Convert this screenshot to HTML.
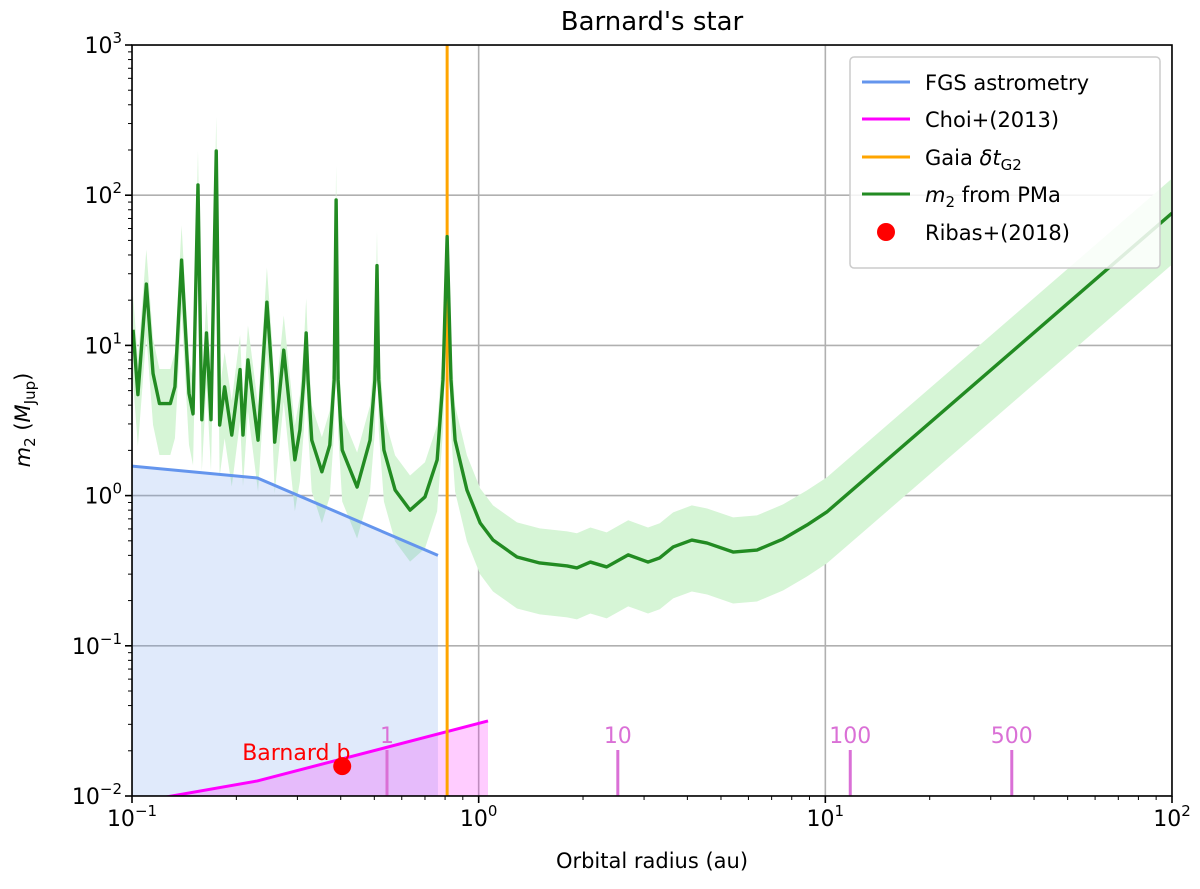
<!DOCTYPE html>
<html><head><meta charset="utf-8"><style>
body{margin:0;background:#fff}
svg text{font-family:"DejaVu Sans","Liberation Sans",sans-serif;fill:#000}
</style></head><body>
<svg id="c" width="1200" height="884" xmlns="http://www.w3.org/2000/svg"></svg>
<script>
const pmaRadius=[0.1007,0.104,0.110,0.115,0.120,0.129,0.133,0.139,0.146,0.150,0.155,0.159,0.164,0.169,0.175,0.179,0.185,0.194,0.205,0.209,0.216,0.231,0.237,0.245,0.254,0.258,0.274,0.295,0.305,0.313,0.318,0.322,0.330,0.353,0.372,0.383,0.388,0.393,0.404,0.446,0.486,0.502,0.509,0.515,0.533,0.574,0.634,0.700,0.759,0.789,0.811,0.832,0.855,0.925,1.01,1.10,1.29,1.50,1.80,1.92,2.10,2.34,2.70,3.08,3.33,3.64,4.12,4.56,5.42,6.35,7.55,8.85,10.1,12.6,100];
const pmaMass=[12.7,4.7,25.6,6.5,4.1,4.1,5.3,37,4.8,3.5,117,3.2,12.1,3.2,197,2.95,5.3,2.53,6.9,2.53,8.0,2.34,5.9,19.4,5.9,2.27,9.3,1.73,2.73,5.9,12.1,5.9,2.34,1.44,2.17,5.9,93,5.9,2.01,1.14,2.34,5.9,34,5.9,2.01,1.09,0.80,0.98,1.73,5.9,53,5.9,2.34,1.09,0.657,0.506,0.390,0.356,0.340,0.330,0.361,0.335,0.403,0.361,0.385,0.455,0.506,0.483,0.421,0.434,0.514,0.637,0.778,1.21,76];
const bandUp=1.7, bandLo=2.2;
const fgsRadius=[0.1,0.230,0.763];
const fgsMass=[1.57,1.31,0.40];
const choiRadius=[0.1,0.230,1.064];
const choiMass=[0.00898,0.0126,0.0316];
const gaiaRadius=0.811;
const ribasRadius=0.404, ribasMass=0.0158;
const periodLabels=["1","10","100","500"];
const periodRadius=[0.544,2.52,11.8,34.5];
const xTicks=[-1,0,1,2];
const yTicks=[-2,-1,0,1,2,3];

const L=132,R=1172,T=45,B=796;
const X=a=>L+(Math.log10(a)+1)/3*(R-L);
const Y=m=>B-(Math.log10(m)+2)/5*(B-T);
const svg=document.getElementById('c');
const NS='http://www.w3.org/2000/svg';
function mk(tag,at,parent){const e=document.createElementNS(NS,tag);for(const k in at)e.setAttribute(k,at[k]);(parent||svg).appendChild(e);return e;}
const defs=mk('defs',{});const cp=mk('clipPath',{id:'pc'},defs);mk('rect',{x:L,y:T,width:R-L,height:B-T},cp);
const plot=mk('g',{'clip-path':'url(#pc)'});


for(const t of xTicks){const g=mk('line',{x1:X(10**t),x2:X(10**t),y1:T,y2:B,stroke:'#b0b0b0','stroke-width':1.6},plot);

}
for(const t of yTicks){const g=mk('line',{x1:L,x2:R,y1:Y(10**t),y2:Y(10**t),stroke:'#b0b0b0','stroke-width':1.6},plot);

}
let up=pmaRadius.map((a,i)=>X(a)+','+Y(pmaMass[i]*bandUp));
let lo=pmaRadius.map((a,i)=>X(a)+','+Y(pmaMass[i]/bandLo)).reverse();
const band=mk('polygon',{points:up.concat(lo).join(' '),fill:'#d6f5d6'},plot);


let fp=fgsRadius.map((a,i)=>X(a)+','+Y(fgsMass[i]));
fp.push(X(fgsRadius[2])+','+B,X(fgsRadius[0])+','+B);
const ff=mk('polygon',{points:fp.join(' '),fill:'#6495ed','fill-opacity':0.2},plot);


let cpnts=choiRadius.map((a,i)=>X(a)+','+Y(choiMass[i]));
cpnts.push(X(choiRadius[2])+','+(B+20),X(choiRadius[0])+','+(B+20));
const cf=mk('polygon',{points:cpnts.join(' '),fill:'#ff00ff','fill-opacity':0.2},plot);


periodRadius.forEach((a,i)=>{
const l=mk('line',{x1:X(a),x2:X(a),y1:750,y2:B,stroke:'#da70d6','stroke-width':3},plot);


const t=mk('text',{x:X(a),y:743,'text-anchor':'middle','font-size':22});t.style.fill='#da70d6';t.textContent=periodLabels[i];


});
const fl=mk('polyline',{points:fgsRadius.map((a,i)=>X(a)+','+Y(fgsMass[i])).join(' '),fill:'none',stroke:'#6495ed','stroke-width':3},plot);


const cl=mk('polyline',{points:choiRadius.map((a,i)=>X(a)+','+Y(choiMass[i])).join(' '),fill:'none',stroke:'#ff00ff','stroke-width':3},plot);


const gl=mk('line',{x1:X(gaiaRadius),x2:X(gaiaRadius),y1:T,y2:B,stroke:'#ffa500','stroke-width':3},plot);


const pl=mk('polyline',{points:pmaRadius.map((a,i)=>X(a)+','+Y(pmaMass[i])).join(' '),fill:'none',stroke:'#228b22','stroke-width':3.4,'stroke-linejoin':'round'},plot);


const rp=mk('circle',{cx:X(ribasRadius),cy:Y(ribasMass),r:9,fill:'#ff0000'},plot);


const bl=mk('text',{x:X(ribasRadius)-100,y:760,'font-size':22});bl.style.fill='#ff0000';bl.textContent='Barnard b';


const fr=mk('rect',{x:L,y:T,width:R-L,height:B-T,fill:'none',stroke:'#000','stroke-width':1.6});


for(let d=-1;d<=2;d++){
const t=mk('line',{x1:X(10**d),x2:X(10**d),y1:B,y2:B+7,stroke:'#000','stroke-width':1.6});


const tx=mk('text',{x:X(10**d),y:B+30,'text-anchor':'middle','font-size':22});
tx.innerHTML='10<tspan dy="-10" font-size="15">'+(d<0?'\u2212'+(-d):d)+'</tspan>';


if(d<2)for(let k=2;k<10;k++){const m=mk('line',{x1:X(k*10**d),x2:X(k*10**d),y1:B,y2:B+4,stroke:'#000','stroke-width':1});

}
}
for(const d of yTicks){
const t=mk('line',{x1:L-7,x2:L,y1:Y(10**d),y2:Y(10**d),stroke:'#000','stroke-width':1.6});


const tx=mk('text',{x:L-10,y:Y(10**d)+8,'text-anchor':'end','font-size':22});
tx.innerHTML='10<tspan dy="-10" font-size="15">'+(d<0?'\u2212'+(-d):d)+'</tspan>';


if(d<3)for(let k=2;k<10;k++){const m=mk('line',{x1:L-4,x2:L,y1:Y(k*10**d),y2:Y(k*10**d),stroke:'#000','stroke-width':1});

}
}
</script>
<svg width="1200" height="884" style="position:absolute;left:0;top:0" xmlns="http://www.w3.org/2000/svg">
<text x="652" y="30" text-anchor="middle" font-size="26">Barnard's star</text>
<text x="652" y="868" text-anchor="middle" font-size="21">Orbital radius (au)</text>
<text transform="translate(30,420) rotate(-90)" text-anchor="middle" font-size="21"><tspan font-style="italic">m</tspan><tspan dy="5" font-size="15">2</tspan><tspan dy="-5"> (</tspan><tspan font-style="italic">M</tspan><tspan dy="5" font-size="15">Jup</tspan><tspan dy="-5">)</tspan></text>
<g>
<rect x="850" y="57" width="310" height="211" rx="4" fill="#fff" fill-opacity="0.85" stroke="#ccc" stroke-width="1.5"/>
<line x1="862" x2="910" y1="82" y2="82" stroke="#6495ed" stroke-width="3"/>
<text x="925" y="90" font-size="21">FGS astrometry</text>
<line x1="862" x2="910" y1="119" y2="119" stroke="#ff00ff" stroke-width="3"/>
<text x="925" y="127" font-size="21">Choi+(2013)</text>
<line x1="862" x2="910" y1="157" y2="157" stroke="#ffa500" stroke-width="3"/>
<text x="925" y="165" font-size="21">Gaia <tspan font-style="italic">δt</tspan><tspan dy="5" font-size="15">G2</tspan></text>
<line x1="862" x2="910" y1="194" y2="194" stroke="#228b22" stroke-width="3"/>
<text x="925" y="202" font-size="21"><tspan font-style="italic">m</tspan><tspan dy="5" font-size="15">2</tspan><tspan dy="-5"> from PMa</tspan></text>
<circle cx="886" cy="232" r="9" fill="#ff0000"/>
<text x="925" y="240" font-size="21">Ribas+(2018)</text>
</g>
</svg>
</body></html>
